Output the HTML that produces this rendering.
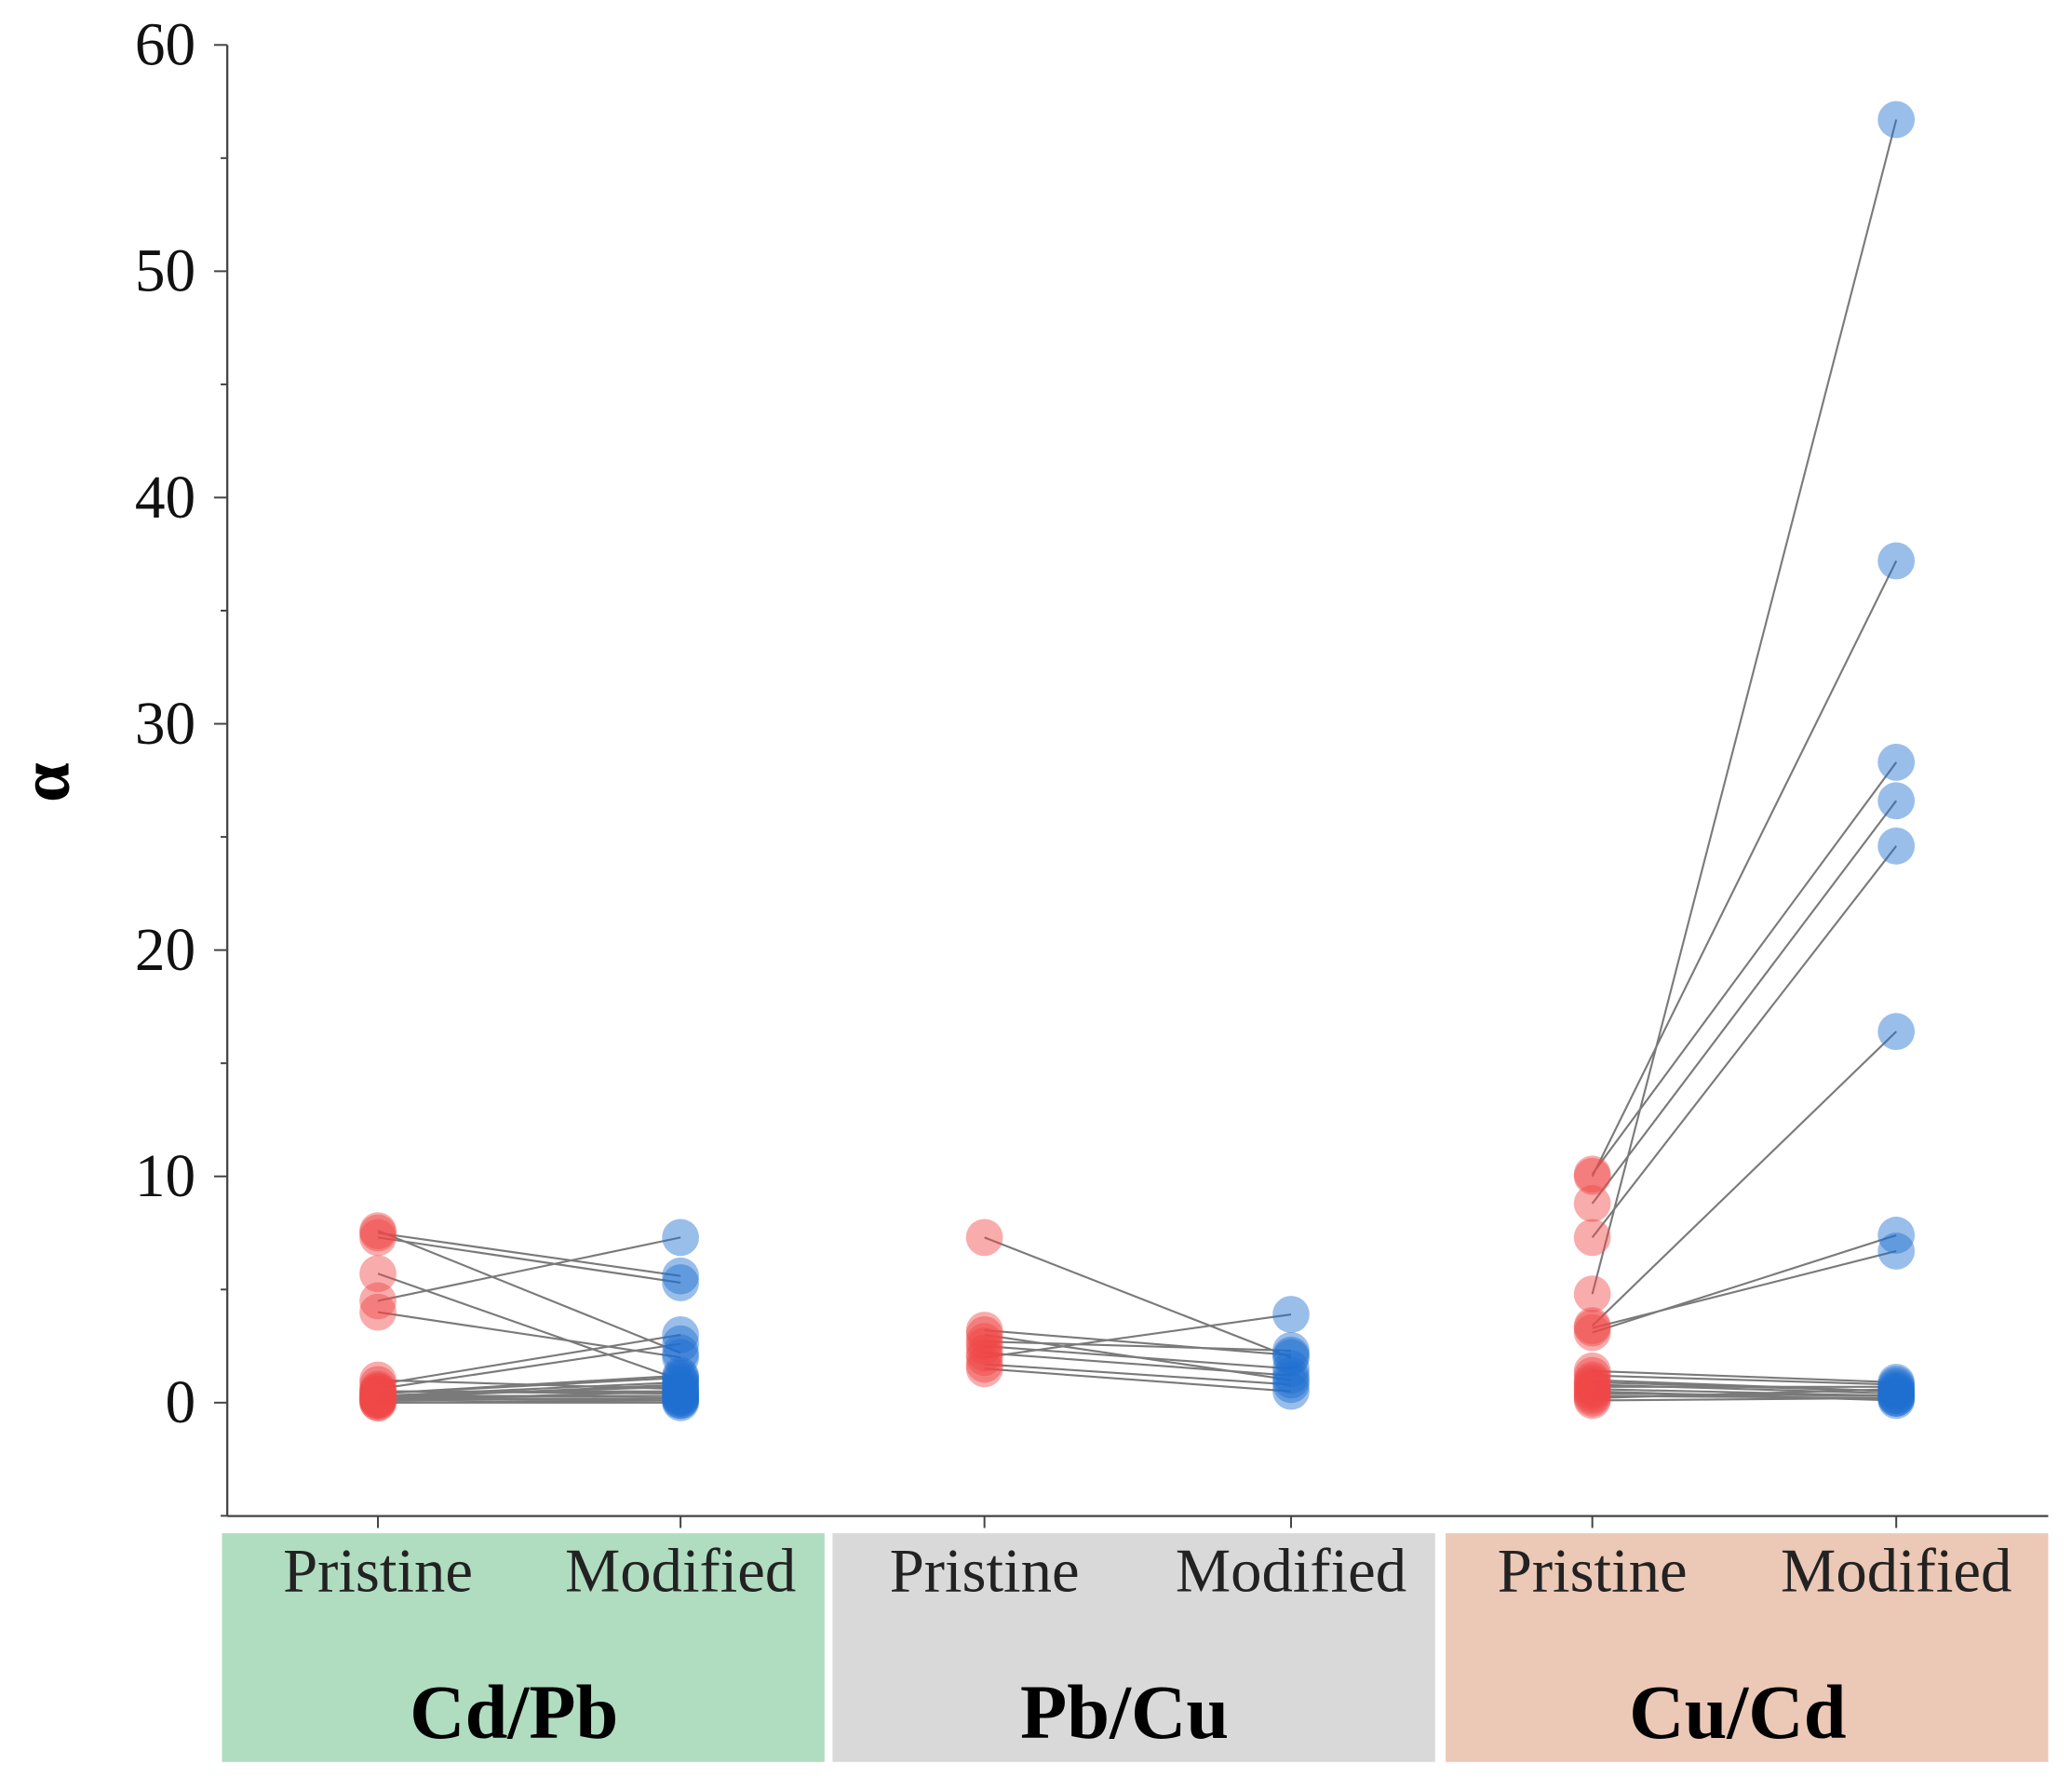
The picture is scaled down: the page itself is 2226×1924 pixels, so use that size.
<!DOCTYPE html>
<html><head><meta charset="utf-8"><style>
html,body{margin:0;padding:0;background:#fff;}
svg{display:block;}
</style></head><body>
<svg id="chart" width="2226" height="1924" viewBox="0 0 1568 1355" preserveAspectRatio="none" xmlns="http://www.w3.org/2000/svg" font-family="'Liberation Serif', serif">
<g id="bands"></g>
<g id="axes"></g>
<g id="lines"></g>
<g id="dots"></g>
</svg>
<script>
const groups = ["Cd/Pb","Pb/Cu","Cu/Cd"];
const yTicks = [0,10,20,30,40,50,60];
const cdpbPristine = [7.5,7.3,7.6,5.7,4.0,4.5,0.6,0.8,0.3,0.2,0.1,0.4,0.2,0.5,0.1,0.3,1.0,0.0,0.2,0.4,0.1,0.3,0.0,0.5];
const cdpbModified = [5.6,5.3,2.2,1.0,2.0,7.3,2.6,3.0,0.3,0.8,0.5,1.2,0.1,0.4,0.2,0.9,0.6,0.0,0.3,1.1,0.2,0.7,0.1,0.5];
const pbcuPristine = [7.3,3.0,2.7,2.5,2.2,2.0,1.7,1.5,3.2];
const pbcuModified = [2.0,1.0,2.3,1.5,1.2,3.9,0.8,0.5,2.1];
const cucdPristine = [4.8,10.0,10.1,8.8,7.3,3.4,3.1,3.3,1.4,1.0,0.6,0.3,0.2,0.8,1.2,0.5,0.4,0.9,0.1,0.7];
const cucdModified = [56.7,37.2,28.3,26.6,24.6,16.4,7.4,6.7,0.9,0.5,0.3,0.2,0.6,0.4,0.8,0.1,0.3,0.5,0.2,0.7];

const pairsByGroup = [[cdpbPristine,cdpbModified],[pbcuPristine,pbcuModified],[cucdPristine,cucdModified]];
const NS="http://www.w3.org/2000/svg";
const axL=172, axR=1550, axB=1147;
function y(v){return 34+(60-v)*17.12;}
function xCat(g,k){return [[286,515],[745,977],[1205,1435]][g][k];}
function mk(tag,attrs,parent){const e=document.createElementNS(NS,tag);for(const k in attrs)e.setAttribute(k,attrs[k]);parent.appendChild(e);return e;}

const bands=document.getElementById('bands');
const bandCol=["#b0dcc0","#d9d9d9","#ecc8b6"];
const bandX=[[168,624],[630,1086],[1094,1550]];
groups.forEach((g,i)=>{
  const r=mk('rect',{x:bandX[i][0],y:1160,width:bandX[i][1]-bandX[i][0],height:173,fill:bandCol[i]},bands);
  
  
  const t1=mk('text',{x:xCat(i,0),y:1204,'font-size':47,'text-anchor':'middle',fill:'#222'},bands);t1.textContent='Pristine';
  
  
  const t2=mk('text',{x:xCat(i,1),y:1204,'font-size':47,'text-anchor':'middle',fill:'#222'},bands);t2.textContent='Modified';
  
  
  const t3=mk('text',{x:(bandX[i][0]+bandX[i][1])/2-7,y:1315,'font-size':58,'font-weight':'bold','text-anchor':'middle',fill:'#000'},bands);t3.textContent=g;
  
  
});

const axes=document.getElementById('axes');
const yl=mk('line',{x1:axL,y1:y(60),x2:axL,y2:axB,stroke:'#444','stroke-width':1.6},axes);


const xl=mk('line',{x1:axL,y1:axB,x2:axR,y2:axB,stroke:'#444','stroke-width':1.6},axes);


for(let v=-5;v<=60;v+=5){
  const major=v%10===0;
  mk('line',{x1:axL-(major?10:5),y1:y(v),x2:axL,y2:y(v),stroke:'#444','stroke-width':1.4},axes);
}
yTicks.forEach(v=>{
  const t=mk('text',{x:148,y:y(v)+15,'font-size':46,'text-anchor':'end',fill:'#111'},axes);t.textContent=v;
  
  
});
for(let g=0;g<3;g++)for(let k=0;k<2;k++)mk('line',{x1:xCat(g,k),y1:axB,x2:xCat(g,k),y2:axB+9,stroke:'#444','stroke-width':1.4},axes);
const yt=mk('text',{x:0,y:0,'font-size':54,'font-weight':'bold','text-anchor':'middle',transform:'translate(52,592) rotate(-90)'},axes);yt.textContent='α';



const lines=document.getElementById('lines'), dots=document.getElementById('dots');
pairsByGroup.forEach((pr,g)=>{
  const [p,m]=pr;
  p.forEach((v,i)=>{
    const l=mk('line',{x1:xCat(g,0),y1:y(v),x2:xCat(g,1),y2:y(m[i]),stroke:'#7a7a7a','stroke-width':1.5},lines);
    
    
  });
  p.forEach(v=>{
    const c=mk('circle',{cx:xCat(g,0),cy:y(v),r:14,fill:'#f04848','fill-opacity':0.45},dots);
    
    
  });
  m.forEach(v=>{
    const c=mk('circle',{cx:xCat(g,1),cy:y(v),r:14,fill:'#1f6fd0','fill-opacity':0.45},dots);
    
    
  });
});
</script>
</body></html>
